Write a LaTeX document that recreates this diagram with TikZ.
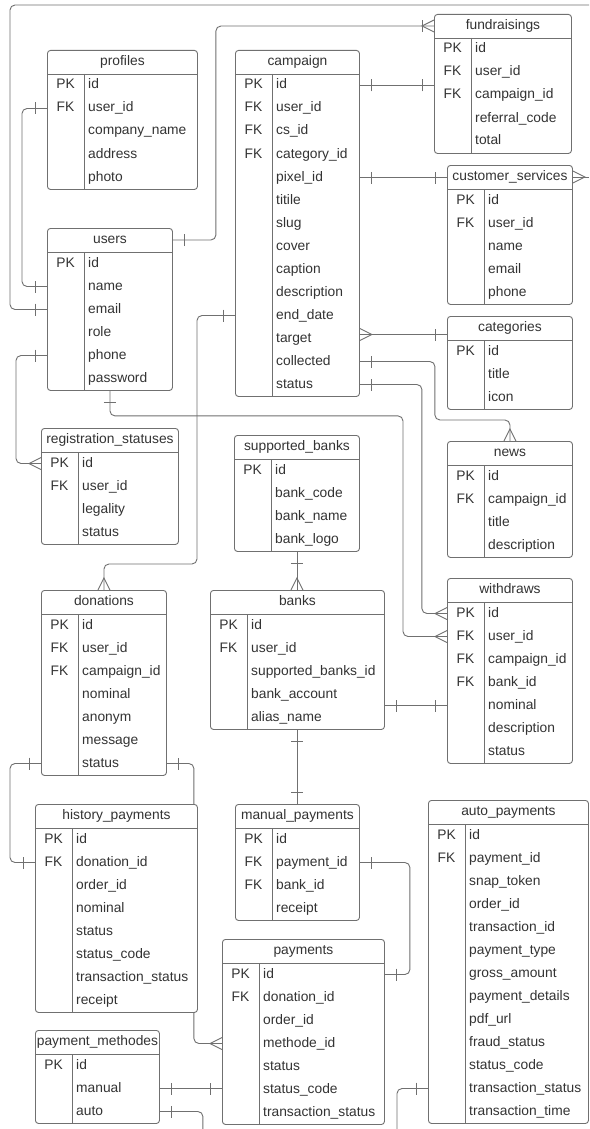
\documentclass[tikz,border=0pt]{standalone}
\usepackage{fontspec}
\setmainfont{Liberation Sans}
\usetikzlibrary{decorations.markings,backgrounds}

\definecolor{linecol}{HTML}{707070}
\definecolor{textcol}{HTML}{333333}

\tikzset{
  tablebox/.style={draw=linecol, line width=0.9pt, fill=white, rounded corners=3pt,
    anchor=north west, inner sep=0pt},
  tableline/.style={draw=linecol, line width=0.9pt},
  tabletitle/.style={text=textcol, inner sep=0pt, text height=10pt, text depth=3pt},
  keytext/.style={text=textcol, inner sep=0pt, text height=10pt, text depth=3pt},
  fieldtext/.style={text=textcol, inner sep=0pt, text height=10pt, text depth=3pt, anchor=west},
  conn/.style={draw=linecol, line width=0.9pt, rounded corners=5pt},
  markline/.style={draw=linecol, line width=0.9pt, sharp corners},
  bar start/.style={postaction={decorate, decoration={markings,
    mark=at position 12pt with {\draw[markline] (0,-6pt) -- (0,6pt);}}}},
  bar end/.style={postaction={decorate, decoration={markings,
    mark=at position -12pt with {\draw[markline] (0,-6pt) -- (0,6pt);}}}},
  crow end/.style={postaction={decorate, decoration={markings,
    mark=at position 1 with {\draw[markline] (0,6pt) -- (-12pt,0) -- (0,-6pt);}}}},
  crow start/.style={postaction={decorate, decoration={markings,
    mark=at position 0 with {\draw[markline] (0,6pt) -- (12pt,0) -- (0,-6pt);}}}},
}

% table: name, left, top, width, rows, title, key/field list
\newcommand{\erdtable}[7]{%
  \node[tablebox, minimum width=#4pt, minimum height={24pt+#5*23pt}] (#1) at (#2,#3) {};
  \node[tabletitle] (#1-t) at ([yshift=-12pt]#1.north) {#6};
  \draw[tableline] ([yshift=-24pt]#1.north west) -- ([yshift=-24pt]#1.north east);
  \draw[tableline] ([xshift=37pt,yshift=-24pt]#1.north west) -- ([xshift=37pt]#1.south west);
  \foreach \k/\f [count=\i] in {#7} {
    \node[keytext] (#1-k\i) at ([xshift=18.5pt,yshift={-12.5pt-23pt*\i}]#1.north west) {\k};
    \node[fieldtext] (#1-\i) at ([xshift=41pt,yshift={-12.5pt-23pt*\i}]#1.north west) {\f};
  }
}

\begin{document}
\begin{tikzpicture}[x=1pt, y=-1pt, font=\fontsize{13.8}{16}\selectfont]
  \useasboundingbox (0,0) rectangle (589,1129);

  % tables
  \erdtable{profiles}{47}{50}{150}{5}{profiles}{PK/id, FK/user\_id, /company\_name, /address, /photo}
  \erdtable{users}{47}{228}{125}{6}{users}{PK/id, /name, /email, /role, /phone, /password}
  \erdtable{campaign}{235}{50}{124}{14}{campaign}{PK/id, FK/user\_id, FK/cs\_id, FK/category\_id, /pixel\_id, /titile, /slug, /cover, /caption, /description, /end\_date, /target, /collected, /status}
  \erdtable{fundraisings}{434}{14}{137}{5}{fundraisings}{PK/id, FK/user\_id, FK/campaign\_id, /referral\_code, /total}
  \erdtable{custserv}{447}{165}{125}{5}{customer\_services}{PK/id, FK/user\_id, /name, /email, /phone}
  \erdtable{categories}{447}{316}{125}{3}{categories}{PK/id, /title, /icon}
  \erdtable{news}{447}{441}{125}{4}{news}{PK/id, FK/campaign\_id, /title, /description}
  \erdtable{withdraws}{447}{578}{125}{7}{withdraws}{PK/id, FK/user\_id, FK/campaign\_id, FK/bank\_id, /nominal, /description, /status}
  \erdtable{regstat}{41}{428}{137}{4}{registration\_statuses}{PK/id, FK/user\_id, /legality, /status}
  \erdtable{suppbanks}{234}{435}{125}{4}{supported\_banks}{PK/id, /bank\_code, /bank\_name, /bank\_logo}
  \erdtable{donations}{41}{590}{125}{7}{donations}{PK/id, FK/user\_id, FK/campaign\_id, /nominal, /anonym, /message, /status}
  \erdtable{banks}{210}{590}{174}{5}{banks}{PK/id, FK/user\_id, /supported\_banks\_id, /bank\_account, /alias\_name}
  \erdtable{history}{35}{804}{162}{8}{history\_payments}{PK/id, FK/donation\_id, /order\_id, /nominal, /status, /status\_code, /transaction\_status, /receipt}
  \erdtable{manualpay}{235}{804}{124}{4}{manual\_payments}{PK/id, FK/payment\_id, FK/bank\_id, /receipt}
  \erdtable{autopay}{428}{800}{160}{13}{auto\_payments}{PK/id, FK/payment\_id, /snap\_token, /order\_id, /transaction\_id, /payment\_type, /gross\_amount, /payment\_details, /pdf\_url, /fraud\_status, /status\_code, /transaction\_status, /transaction\_time}
  \erdtable{payments}{222}{939}{162}{7}{payments}{PK/id, FK/donation\_id, /order\_id, /methode\_id, /status, /status\_code, /transaction\_status}
  \erdtable{paymethods}{35}{1030}{124}{3}{payment\_methodes}{PK/id, /manual, /auto}

  % free ends and bends
  \coordinate (topleft) at (10,5);
  \coordinate (topright) at (589,5);
  \coordinate (rightedge) at (589,0);
  \coordinate (bottomedge) at (0,1129);
  \coordinate (tgt) at ([yshift=4pt]campaign-12.west);
  \coordinate (wdbend) at ([xshift=-44pt]withdraws.west);
  \coordinate (pmbend) at ([xshift=43pt]paymethods.east);
  \coordinate (apbend) at ([xshift=-31pt]autopay.west);

  % relations
  \begin{scope}[on background layer]
    \fill[white] (0,0) rectangle (589,1129);
    \draw[conn, bar start] (users.west |- users-3) -| (topleft) -- (topright);
    \draw[conn, bar start, bar end] (profiles.west |- profiles-2) -- ++(-25,0) |- (users.west |- users-2);
    \draw[conn, bar start, bar end, crow end] (users.east |- users-t) -- ++(43,0) |- (fundraisings.west |- fundraisings-t);
    \draw[conn, bar start, bar end] (campaign.east |- campaign-1) -- (fundraisings.west |- campaign-1);
    \draw[conn, bar start, bar end] (campaign.east |- campaign-5) -- (custserv.west |- campaign-5);
    \draw[conn, crow start] (custserv.east |- custserv-t) -- (rightedge |- custserv-t);
    \draw[conn, crow start, bar end] (campaign.east |- tgt) -- (categories.west |- tgt);
    \draw[conn, bar start, crow end] (campaign.east |- campaign-13) -- ++(75,0) |- ([yshift=21pt]news.north) -- (news.north);
    \draw[conn, bar start, crow end] (campaign.east |- campaign-14) -- ++(62,0) |- (withdraws.west |- withdraws-1);
    \draw[conn, bar start, crow end] (users.south) -- ++(0,25) -| (wdbend |- withdraws-2) -- (withdraws.west |- withdraws-2);
    \draw[conn, bar start, crow end] (campaign.west |- campaign-11) -- ++(-38,0) |- ([yshift=26pt]donations.north) -- (donations.north);
    \draw[conn, bar start, crow end] (users.west |- users-5) -- ++(-31,0) |- (regstat.west |- regstat-1);
    \draw[conn, bar start, crow end] (suppbanks.south) -- (suppbanks.south |- banks.north);
    \draw[conn, bar start, bar end] (banks.east |- withdraws-5) -- (withdraws.west |- withdraws-5);
    \draw[conn, bar start, bar end] (banks.south) -- (manualpay.north);
    \draw[conn, bar start, bar end] (donations.west |- donations-7) -- ++(-31,0) |- (history.west |- history-2);
    \draw[conn, bar start, crow end] (donations.east |- donations-7) -- ++(27,0) |- (payments.west |- payments-4);
    \draw[conn, bar start, bar end] (manualpay.east |- manualpay-2) -- ++(50,0) |- (payments.east |- payments-1);
    \draw[conn, bar start, bar end] (paymethods.east |- paymethods-2) -- (payments.west |- paymethods-2);
    \draw[conn, bar start] (paymethods.east |- paymethods-3) -| (pmbend |- bottomedge);
    \draw[conn, bar start] (autopay.west |- autopay-12) -| (apbend |- bottomedge);
  \end{scope}
\end{tikzpicture}
\end{document}
